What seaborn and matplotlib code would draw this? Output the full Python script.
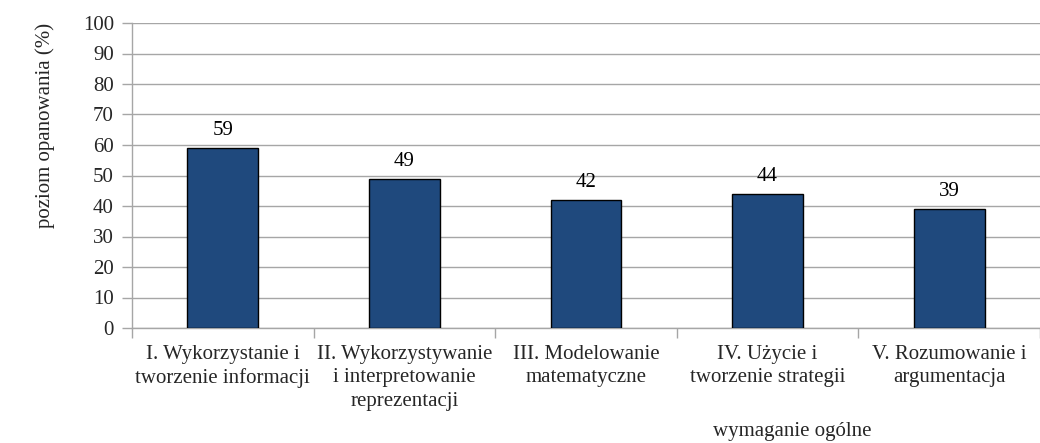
import matplotlib
matplotlib.use("Agg")
import matplotlib.pyplot as plt
import seaborn as sns
import pandas as pd
from matplotlib.ticker import FixedLocator

categories = [
    "I. Wykorzystanie i\ntworzenie informacji",
    "II. Wykorzystywanie\ni interpretowanie\nreprezentacji",
    "III. Modelowanie\nmatematyczne",
    "IV. Użycie i\ntworzenie strategii",
    "V. Rozumowanie i\nargumentacja",
]
values = [59, 49, 42, 44, 39]
y_ticks = list(range(0, 101, 10))

sns.set_theme(style="white")
plt.rcParams["font.family"] = ["Liberation Serif", "DejaVu Serif"]
FS = 15

df = pd.DataFrame({"cat": categories, "val": values})

fig = plt.figure(figsize=(10.4, 4.43), dpi=100)
ax = fig.add_axes([132 / 1040, 1 - 328 / 443, 1 - 132 / 1040, (328 - 23) / 443])

sns.barplot(data=df, x="cat", y="val", color="#1F497D", width=0.39,
            edgecolor="black", linewidth=1.0, saturation=1, ax=ax, zorder=3)

for i, v in enumerate(values):
    ax.text(i, v + 2.6, str(v), ha="center", va="bottom", fontsize=FS, color="black")

ax.set_xlim(-0.5, len(categories) - 0.5)
ax.set_ylim(0, 100)
ax.set_yticks(y_ticks)
ax.set_yticklabels([str(t) for t in y_ticks], fontsize=FS)
ax.yaxis.grid(True, color="#A6A6A6", linewidth=1.0, zorder=0)
ax.set_axisbelow(True)

ax.set_xticks(range(len(categories)))
ax.set_xticklabels(categories, fontsize=FS, linespacing=1.32)
ax.xaxis.set_minor_locator(FixedLocator([i - 0.5 for i in range(len(categories) + 1)]))
ax.tick_params(axis="x", which="major", length=0, pad=12)
ax.tick_params(axis="x", which="minor", length=7, color="#A6A6A6", width=1.0, bottom=True)
ax.tick_params(axis="y", length=7, color="#A6A6A6", width=1.0, left=True, pad=6)

for s in ["top", "right"]:
    ax.spines[s].set_visible(False)
for s in ["left", "bottom"]:
    ax.spines[s].set_color("#A6A6A6")
    ax.spines[s].set_linewidth(1.0)

ax.set_xlabel("")
ax.set_ylabel("")
fig.text(45 / 1040, 1 - 125 / 443, "poziom opanowania (%)", rotation=90,
         ha="center", va="center", fontsize=FS)
fig.text(792 / 1040, 2 / 443, "wymaganie ogólne", ha="center", va="bottom",
         fontsize=FS)

fig.savefig("out.png", dpi=100)
